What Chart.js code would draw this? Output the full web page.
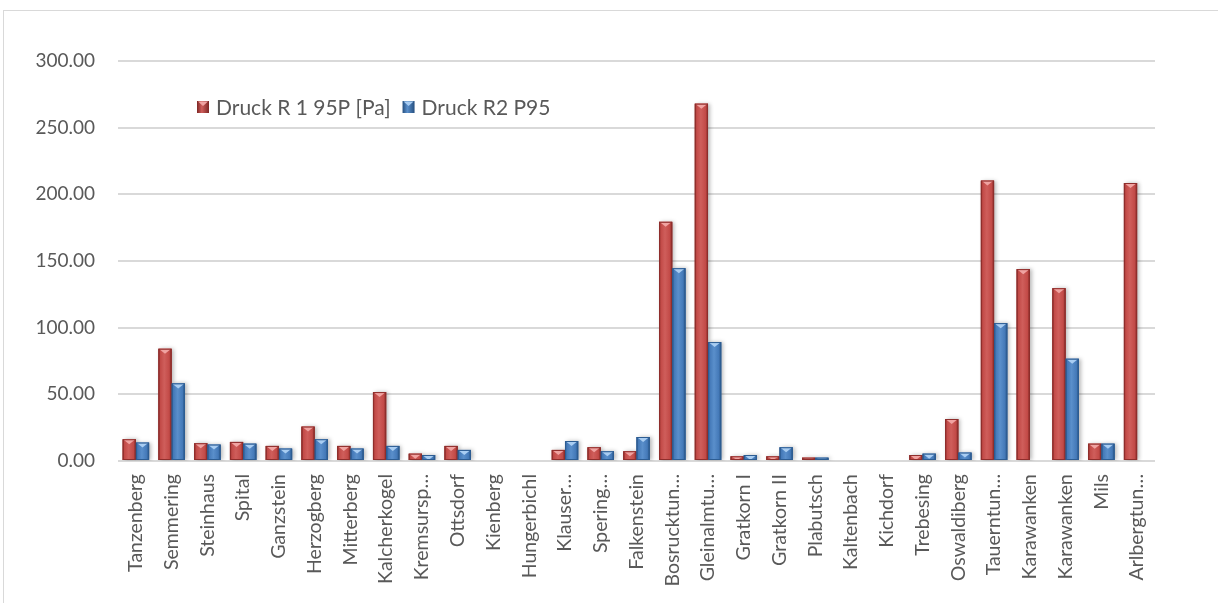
<!DOCTYPE html>
<html>
<head>
<meta charset="utf-8">
<script src="https://cdn.jsdelivr.net/npm/chart.js@4.4.1/dist/chart.umd.min.js"></script>
<style>
  html, body { margin: 0; padding: 0; background: #ffffff; overflow: hidden; }
  #wrap { position: relative; width: 1218px; height: 603px; }
  #frame { position: absolute; left: 3px; top: 10px; width: 1300px; height: 700px;
           border: 1px solid #d9d9d9; box-sizing: border-box; }
  #c { position: absolute; left: 0; top: 0; }
</style>
</head>
<body>
<div id="wrap">
  <div id="frame"></div>
  <canvas id="c" width="1218" height="603"></canvas>
</div>
<script>
// Tunnel names (as shown on the category axis)
const tunnels = [
  "Tanzenberg", "Semmering", "Steinhaus", "Spital", "Ganzstein", "Herzogberg",
  "Mitterberg", "Kalcherkogel", "Kremsursp…", "Ottsdorf", "Kienberg", "Hungerbichl",
  "Klauser…", "Spering…", "Falkenstein", "Bosrucktun…", "Gleinalmtu…", "Gratkorn I",
  "Gratkorn II", "Plabutsch", "Kaltenbach", "Kichdorf", "Trebesing", "Oswaldiberg",
  "Tauerntun…", "Karawanken", "Karawanken", "Mils", "Arlbergtun…"
];

// Pressure, 95th percentile, section R1 [Pa]
const druckR1 = [
  16.3, 84.2, 13.3, 14.3, 11.3, 25.8, 11.3, 51.7, 5.5, 11.3, 0, 0,
  8.3, 10.3, 7.3, 179.4, 268.0, 3.5, 3.5, 2.5, 0, 0, 4.5, 31.5,
  210.3, 143.9, 129.6, 13.0, 208.5
];

// Pressure, 95th percentile, section R2
const druckR2 = [
  13.8, 58.2, 12.3, 13.0, 9.3, 16.3, 9.3, 11.3, 4.5, 8.3, 0, 0,
  15.0, 7.3, 18.0, 144.6, 89.2, 4.5, 10.3, 2.5, 0, 0, 5.5, 6.3,
  103.4, null, 76.7, 13.0, null
];

const seriesNames = ["Druck R 1 95P [Pa]", "Druck R2 P95"];
const yTicks = [0, 50, 100, 150, 200, 250, 300];

const FONT = "Lato, 'Open Sans', sans-serif";
const TEXT = "#595959";

// Bevelled column look: dark edges, lighter body, light notch at the top
const palettes = [
  { edge: "#7d2624", mid: "#c24a47", light: "#cf5e5b", cap: "#f0a3a1", rim: "#8f2e2c" },
  { edge: "#254f7f", mid: "#4479b8", light: "#5a8fcb", cap: "#a9cdf2", rim: "#2d5d93" }
];

function paintColumn(ctx, x, top, base, w, p) {
  const left = x - w / 2, right = x + w / 2;
  const h = base - top;
  if (h <= 0.2) return;
  const g = ctx.createLinearGradient(left, 0, right, 0);
  g.addColorStop(0, p.edge);
  g.addColorStop(0.14, p.mid);
  g.addColorStop(0.45, p.light);
  g.addColorStop(0.82, p.mid);
  g.addColorStop(1, p.edge);
  ctx.fillStyle = g;
  ctx.fillRect(left, top, w, h);
  // top notch
  const th = Math.min(5, h);
  ctx.beginPath();
  ctx.moveTo(left + 1, top + 0.5);
  ctx.lineTo(right - 1, top + 0.5);
  ctx.lineTo(x, top + th);
  ctx.closePath();
  ctx.fillStyle = p.cap;
  ctx.fill();
  ctx.strokeStyle = p.rim;
  ctx.lineWidth = 1;
  ctx.strokeRect(left + 0.5, top + 0.5, w - 1, Math.max(h - 1, 0.1));
}

const columnPainter = {
  id: "columnPainter",
  afterDatasetsDraw(chart) {
    const ctx = chart.ctx;
    const area = chart.chartArea;
    const bars = [];
    chart.data.datasets.forEach((ds, di) => {
      const meta = chart.getDatasetMeta(di);
      meta.data.forEach((el, i) => {
        if (ds.data[i] === null || ds.data[i] === undefined) return;
        const pr = el.getProps(["x", "y", "base", "width"], true);
        bars.push({ pr, p: palettes[di] });
      });
    });
    ctx.save();
    ctx.beginPath();
    ctx.rect(area.left, area.top - 5, area.right - area.left, area.bottom - area.top + 5);
    ctx.clip();
    // soft drop shadow
    ctx.save();
    ctx.shadowColor = "rgba(0,0,0,0.28)";
    ctx.shadowBlur = 4;
    ctx.shadowOffsetX = 2;
    ctx.shadowOffsetY = 0;
    bars.forEach(({ pr, p }) => {
      const h = pr.base - pr.y;
      if (h <= 0.2) return;
      ctx.fillStyle = p.mid;
      ctx.fillRect(pr.x - pr.width / 2, pr.y, pr.width, h);
    });
    ctx.restore();
    bars.forEach(({ pr, p }) => paintColumn(ctx, pr.x, pr.y, pr.base, pr.width, p));
    ctx.restore();
  }
};

// Legend drawn inside the plot area
const innerLegend = {
  id: "innerLegend",
  afterDraw(chart) {
    const ctx = chart.ctx;
    const a = chart.chartArea;
    let x = a.left + 79;
    const cy = a.top + 46;
    ctx.save();
    ctx.font = "21px " + FONT;
    ctx.textBaseline = "middle";
    seriesNames.forEach((name, i) => {
      const p = palettes[i];
      const s = 12;
      const g = ctx.createLinearGradient(x, 0, x + s, 0);
      g.addColorStop(0, p.edge);
      g.addColorStop(0.4, p.light);
      g.addColorStop(1, p.edge);
      ctx.fillStyle = g;
      ctx.fillRect(x, cy - s / 2, s, s);
      ctx.beginPath();
      ctx.moveTo(x + 1, cy - s / 2 + 0.5);
      ctx.lineTo(x + s - 1, cy - s / 2 + 0.5);
      ctx.lineTo(x + s / 2, cy - s / 2 + 5);
      ctx.closePath();
      ctx.fillStyle = p.cap;
      ctx.fill();
      ctx.fillStyle = TEXT;
      ctx.textAlign = "left";
      ctx.fillText(name, x + s + 7, cy + 1);
      x += s + 7 + ctx.measureText(name).width + 12;
    });
    ctx.restore();
  }
};

new Chart(document.getElementById("c"), {
  type: "bar",
  data: {
    labels: tunnels,
    datasets: [
      { label: seriesNames[0], data: druckR1, backgroundColor: "rgba(0,0,0,0)" },
      { label: seriesNames[1], data: druckR2, backgroundColor: "rgba(0,0,0,0)" }
    ]
  },
  options: {
    responsive: false,
    animation: false,
    devicePixelRatio: 1,
    layout: { padding: { top: 61, right: 63, left: 0, bottom: 0 } },
    datasets: { bar: { categoryPercentage: 0.74, barPercentage: 1.0 } },
    plugins: { legend: { display: false }, tooltip: { enabled: false } },
    scales: {
      x: {
        grid: { display: false },
        border: { display: false },
        ticks: {
          color: TEXT,
          font: { family: FONT, size: 19.5 },
          minRotation: 90,
          maxRotation: 90,
          autoSkip: false,
          padding: 5
        },
        afterFit(scale) { scale.height = 142; }
      },
      y: {
        min: 0,
        max: 300,
        afterBuildTicks(scale) { scale.ticks = yTicks.map(v => ({ value: v })); },
        grid: { color: "#d9d9d9", lineWidth: 2, drawTicks: false },
        border: { display: false },
        ticks: {
          color: TEXT,
          font: { family: FONT, size: 19 },
          padding: 23,
          callback: v => Number(v).toFixed(2)
        },
        afterFit(scale) { scale.width = 118; }
      }
    }
  },
  plugins: [columnPainter, innerLegend]
});
</script>
</body>
</html>
